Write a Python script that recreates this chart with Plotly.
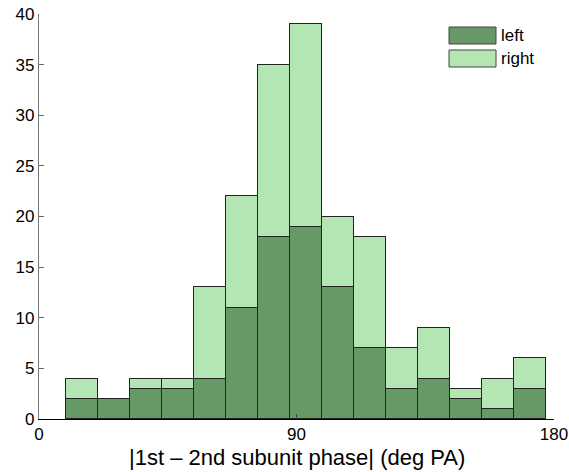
import plotly.graph_objects as go

# Histogram of |1st - 2nd subunit phase|, 15 equal bins, stacked by side
bin_start = 9.3
bin_width = 11.2
left_counts = [2, 2, 3, 3, 4, 11, 18, 19, 13, 7, 3, 4, 2, 1, 3]
right_counts = [2, 0, 1, 1, 9, 11, 17, 20, 7, 11, 4, 5, 1, 3, 3]
x_ticks = [0, 90, 180]
y_ticks = [0, 5, 10, 15, 20, 25, 30, 35, 40]
series_names = ["left", "right"]
x_title = "|1st \u2013 2nd subunit phase| (deg PA)"

dark_green = "#669966"
light_green = "#b3e6b3"
edge = "#222222"

centers = [bin_start + bin_width * (i + 0.5) for i in range(len(left_counts))]

fig = go.Figure()
fig.add_trace(go.Bar(
    x=centers, y=left_counts, width=bin_width, name=series_names[0],
    marker=dict(color=dark_green, line=dict(color=edge, width=1)),
))
fig.add_trace(go.Bar(
    x=centers, y=right_counts, width=bin_width, name=series_names[1],
    marker=dict(color=light_green, line=dict(color=edge, width=1)),
))

font = "Liberation Sans, Arial, sans-serif"

fig.update_layout(
    barmode="stack",
    bargap=0,
    width=569, height=472,
    margin=dict(l=39, r=15, t=14, b=53),
    plot_bgcolor="white", paper_bgcolor="white",
    showlegend=False,
    font=dict(family=font, size=17, color="black"),
    xaxis=dict(
        range=[0, 180], tickvals=x_ticks, ticks="inside", ticklen=5,
        tickcolor="#444", showline=True, linecolor="black", linewidth=1,
        showgrid=False, zeroline=False, automargin=False,
        tickfont=dict(size=17),
    ),
    yaxis=dict(
        range=[0, 40], tickvals=y_ticks, ticks="inside", ticklen=5,
        tickcolor="#666", showline=True, linecolor="#777", linewidth=1.2,
        showgrid=False, zeroline=False, automargin=False, tickfont=dict(size=17),
    ),
)

plot_l, plot_r, plot_t, plot_b = 39, 554, 14, 419


def px_to_paper(xp, yp):
    return ((xp - plot_l) / (plot_r - plot_l), (plot_b - yp) / (plot_b - plot_t))


# x-axis title, placed just under the tick labels
tx, ty = px_to_paper((plot_l + plot_r) / 2, 457.5)
fig.add_annotation(xref="paper", yref="paper", x=tx, y=ty, text=x_title,
                   showarrow=False, xanchor="center", yanchor="middle",
                   font=dict(size=22, family=font, color="black"))

# Legend drawn as swatches with labels in the upper right
legend_items = [(series_names[0], dark_green), (series_names[1], light_green)]
x0_px, x1_px = 449, 496
row_tops = [27, 50]
sw_h = 17

for (name, color), top in zip(legend_items, row_tops):
    ax0, ay1 = px_to_paper(x0_px, top)
    ax1, ay0 = px_to_paper(x1_px, top + sw_h)
    fig.add_shape(type="rect", xref="paper", yref="paper",
                  x0=ax0, x1=ax1, y0=ay0, y1=ay1,
                  fillcolor=color, line=dict(color="#444", width=1))
    lx, ly = px_to_paper(x1_px + 3, top + sw_h / 2)
    fig.add_annotation(xref="paper", yref="paper", x=lx, y=ly, text=name,
                       showarrow=False, xanchor="left", yanchor="middle",
                       font=dict(size=17, family=font, color="black"))

fig.write_html("out.html")
